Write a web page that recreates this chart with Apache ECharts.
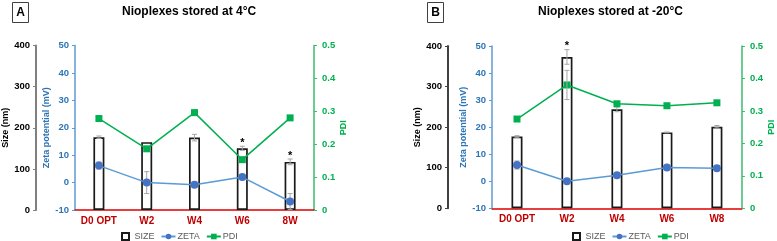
<!DOCTYPE html>
<html><head><meta charset="utf-8">
<script src="https://cdn.jsdelivr.net/npm/echarts@6/dist/echarts.min.js"></script>
<style>html,body{margin:0;padding:0;background:#fff}#c{width:777px;height:241px}</style>
</head><body><div id="c"></div>
<script>
// ---- data ----
const categoriesA = ['D0 OPT', 'W2', 'W4', 'W6', '8W'];
const categoriesB = ['D0 OPT', 'W2', 'W4', 'W6', 'W8'];
const sizeA = [177, 165, 176, 150, 117];
const sizeErrA = [3, 0, 8, 5, 7];
const zetaA = [6.2, 0, -0.8, 2, -6.9];
const zetaErrA = [1.3, 4, 0, 0, 2.9];
const pdiA = [0.278, 0.186, 0.296, 0.153, 0.280];
const pdiErrA = [0, 0, 0, 0, 0];
const starA = [0, 0, 0, 1, 1];
const sizeB = [177, 373, 244, 187, 201];
const sizeErrB = [2, 18, 6, 1, 3];
const zetaB = [6.0, 0, 2.2, 5.1, 4.8];
const zetaErrB = [1.5, 0, 0, 0, 0];
const pdiB = [0.275, 0.380, 0.322, 0.316, 0.325];
const pdiErrB = [0, 0.045, 0, 0, 0];
const starB = [0, 1, 0, 0, 0];
const sizeTicks = {min: 0, max: 400, interval: 100};
const zetaTicks = {min: -10, max: 50, interval: 10};
const pdiTicks = {min: 0, max: 0.5, interval: 0.1};

const FONT = 'Liberation Sans';
const chart = echarts.init(document.getElementById('c'), null, {renderer: 'canvas'});

function errRender(params, api) {
  const x = api.value(0), v = api.value(1), e = api.value(2), s = api.value(3);
  const top = api.coord([x, v + e]);
  const bot = api.coord([x, v - e]);
  const ch = [];
  const st = {stroke: '#A6A6A6', lineWidth: 1};
  if (e > 0) {
    ch.push({type: 'line', shape: {x1: top[0], y1: top[1], x2: bot[0], y2: bot[1]}, style: st});
    ch.push({type: 'line', shape: {x1: top[0] - 2.5, y1: top[1], x2: top[0] + 2.5, y2: top[1]}, style: st});
    ch.push({type: 'line', shape: {x1: bot[0] - 2.5, y1: bot[1], x2: bot[0] + 2.5, y2: bot[1]}, style: st});
  }
  if (s) {
    ch.push({type: 'text', style: {text: '*', x: top[0], y: top[1] + 2, align: 'center', verticalAlign: 'bottom',
      font: 'bold 11px ' + FONT, fill: '#000'}});
  }
  return {type: 'group', children: ch};
}
function errData(vals, errs, stars) {
  return vals.map((v, i) => [i, v, errs[i], stars ? stars[i] : 0]);
}

function xAx(cats, gi) {
  return {type: 'category', gridIndex: gi, data: cats,
    axisLine: {lineStyle: {color: '#E00000', width: 1.5}},
    axisTick: {show: false},
    axisLabel: {color: '#C00000', fontWeight: 'bold', fontSize: 10, fontFamily: FONT, margin: 6}};
}
function yAxes(gi, sizeOffset, sizeColor) {
  return [
    Object.assign({type: 'value', gridIndex: gi, position: 'left', offset: sizeOffset,
      name: 'Size (nm)', nameLocation: 'middle', nameRotate: 90, nameGap: 26,
      nameTextStyle: {color: '#000', fontWeight: 'bold', fontSize: 9, fontFamily: FONT},
      axisLine: {show: true, lineStyle: {color: sizeColor, width: 2}},
      axisTick: {show: true, length: 3, lineStyle: {color: sizeColor}},
      axisLabel: {color: '#000', fontWeight: 'bold', fontSize: 9.5, fontFamily: FONT, margin: 6},
      splitLine: {show: false}}, sizeTicks),
    Object.assign({type: 'value', gridIndex: gi, position: 'left', offset: 0,
      name: 'Zeta potential (mV)', nameLocation: 'middle', nameRotate: 90, nameGap: 23,
      nameTextStyle: {color: '#2E75B6', fontWeight: 'bold', fontSize: 9, fontFamily: FONT},
      axisLine: {show: true, lineStyle: {color: '#5B9BD5', width: 1.5}},
      axisTick: {show: true, length: 3, lineStyle: {color: '#5B9BD5'}},
      axisLabel: {color: '#2E75B6', fontWeight: 'bold', fontSize: 9.5, fontFamily: FONT, margin: 6},
      splitLine: {show: false}}, zetaTicks),
    Object.assign({type: 'value', gridIndex: gi, position: 'right', offset: 0,
      name: 'PDI', nameLocation: 'middle', nameRotate: 90, nameGap: 25,
      nameTextStyle: {color: '#00B050', fontWeight: 'bold', fontSize: 9, fontFamily: FONT},
      axisLine: {show: true, lineStyle: {color: '#3DBB6E', width: 1.5}},
      axisTick: {show: true, length: 3, lineStyle: {color: '#3DBB6E'}},
      axisLabel: {color: '#00B050', fontWeight: 'bold', fontSize: 9.5, fontFamily: FONT, margin: 8,
        formatter: v => (v === 0 ? '0' : v.toFixed(1))},
      splitLine: {show: false}}, pdiTicks)
  ];
}
function panelSeries(gi, size, sizeErr, zeta, zetaErr, pdi, pdiErr, star) {
  const yb = gi * 3;
  return [
    {name: 'SIZE', type: 'bar', xAxisIndex: gi, yAxisIndex: yb, data: size, barWidth: 11, z: 2,
      itemStyle: {color: '#fff', borderColor: '#1a1a1a', borderWidth: 1.7}},
    {type: 'custom', xAxisIndex: gi, yAxisIndex: yb, renderItem: errRender, z: 3, silent: true,
      encode: {x: 0, y: 1}, data: errData(size, sizeErr, star)},
    {name: 'ZETA', type: 'line', xAxisIndex: gi, yAxisIndex: yb + 1, data: zeta, z: 5,
      symbol: 'circle', symbolSize: 8, lineStyle: {color: '#5B9BD5', width: 1.5},
      itemStyle: {color: '#4472C4'}},
    {type: 'custom', xAxisIndex: gi, yAxisIndex: yb + 1, renderItem: errRender, z: 4, silent: true,
      encode: {x: 0, y: 1}, data: errData(zeta, zetaErr)},
    {name: 'PDI', type: 'line', xAxisIndex: gi, yAxisIndex: yb + 2, data: pdi, z: 5,
      symbol: 'rect', symbolSize: 7, lineStyle: {color: '#00B050', width: 1.5},
      itemStyle: {color: '#00B050'}},
    {type: 'custom', xAxisIndex: gi, yAxisIndex: yb + 2, renderItem: errRender, z: 6, silent: true,
      encode: {x: 0, y: 1}, data: errData(pdi, pdiErr)}
  ];
}
function legend(left) {
  return {left: left, top: 232, padding: 0, itemWidth: 14, itemHeight: 7, itemGap: 6, selectedMode: false,
    textStyle: {color: '#595959', fontSize: 9, fontFamily: FONT, padding: [0, 0, 0, -3]},
    data: [{name: 'SIZE', icon: 'path://M0,0H10V10H0Z'}, 'ZETA', 'PDI']};
}
function box(x, letter) {
  return {type: 'group', left: x, top: 2, children: [
    {type: 'rect', shape: {x: 0, y: 0, width: 16, height: 20}, style: {fill: '#fff', stroke: '#404040', lineWidth: 1}},
    {type: 'text', style: {text: letter, x: 8, y: 10, align: 'center', verticalAlign: 'middle',
      font: 'bold 12px ' + FONT, fill: '#000'}}
  ]};
}

chart.setOption({
  animation: false,
  backgroundColor: '#fff',
  title: [
    {text: 'Nioplexes stored at 4°C', left: 122, top: 6, padding: 0,
      textStyle: {fontSize: 12, fontWeight: 'bold', fontFamily: FONT, color: '#000'}},
    {text: 'Nioplexes stored at -20°C', left: 538, top: 6, padding: 0,
      textStyle: {fontSize: 12, fontWeight: 'bold', fontFamily: FONT, color: '#000'}}
  ],
  graphic: [box(12, 'A'), box(427, 'B')],
  legend: [legend(121), legend(572)],
  grid: [
    {left: 73, width: 241, top: 45.5, height: 164.5},
    {left: 492, width: 253, top: 46, height: 162.3}
  ],
  xAxis: [xAx(categoriesA, 0), xAx(categoriesB, 1)],
  yAxis: yAxes(0, 39, '#808080').concat(yAxes(1, 44, '#404040')),
  series: panelSeries(0, sizeA, sizeErrA, zetaA, zetaErrA, pdiA, pdiErrA, starA)
    .concat(panelSeries(1, sizeB, sizeErrB, zetaB, zetaErrB, pdiB, pdiErrB, starB))
});
</script></body></html>
